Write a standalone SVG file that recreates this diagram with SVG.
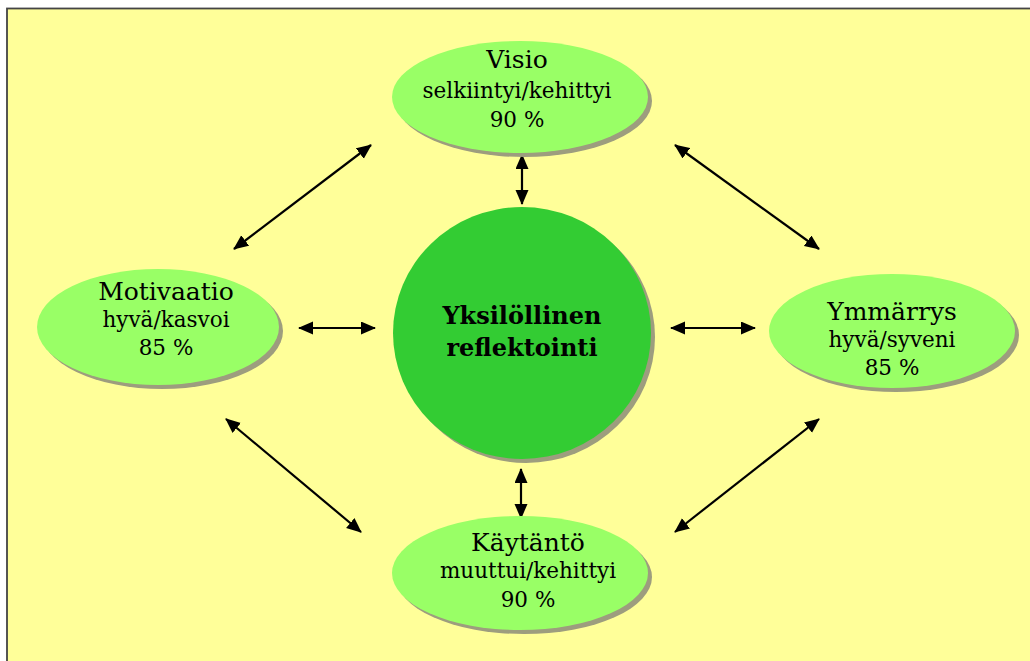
<svg xmlns="http://www.w3.org/2000/svg" width="1030" height="661" viewBox="0 0 1030 661">
<defs>
<marker id="ah" markerUnits="userSpaceOnUse" markerWidth="16" markerHeight="14" refX="14" refY="6.5" orient="auto-start-reverse" viewBox="0 0 16 14">
<path d="M0,0 L15,6.5 L0,13 z" fill="#000"/>
</marker>
<style>
.sh{fill:#9d9d7e}
.node{fill:#99ff66}
.core{fill:#33cc33}
.t{font-family:"DejaVu Serif","Liberation Serif",serif;fill:#000;text-anchor:middle}
.h{font-size:25px}
.s{font-size:21.5px}
.b{font-size:24px;font-weight:bold}
.c line{stroke:#000;stroke-width:2.2;marker-start:url(#ah);marker-end:url(#ah)}
</style>
</defs>
<rect x="0" y="0" width="1030" height="661" fill="#ffffff"/>
<rect x="7" y="8.5" width="1030" height="700" fill="#ffff99" stroke="#444" stroke-width="1.8"/>
<g class="c" id="connectors">
<line x1="522" y1="155" x2="522" y2="204"/>
<line x1="521" y1="469" x2="521" y2="518"/>
<line x1="299" y1="328" x2="375" y2="328"/>
<line x1="671" y1="328" x2="755" y2="328"/>
<line x1="371" y1="145" x2="234" y2="249"/>
<line x1="675" y1="145" x2="819" y2="249"/>
<line x1="226" y1="419" x2="361" y2="532"/>
<line x1="819" y1="419" x2="675" y2="532"/>
</g>
<g id="visio">
<ellipse class="sh" cx="524" cy="101" rx="128" ry="56"/>
<ellipse class="node" cx="520" cy="97" rx="128" ry="56"/>
<text class="t h" x="517" y="68">Visio</text>
<text class="t s" x="517" y="98">selkiintyi/kehittyi</text>
<text class="t s" x="517" y="127">90 %</text>
</g>
<g id="motivaatio">
<ellipse class="sh" cx="162" cy="331" rx="121" ry="58"/>
<ellipse class="node" cx="158" cy="327" rx="121" ry="58"/>
<text class="t h" x="166" y="300">Motivaatio</text>
<text class="t s" x="166" y="327">hyvä/kasvoi</text>
<text class="t s" x="166" y="355">85 %</text>
</g>
<g id="ymmarrys">
<ellipse class="sh" cx="896" cy="335" rx="123" ry="57"/>
<ellipse class="node" cx="892" cy="331" rx="123" ry="57"/>
<text class="t h" x="892" y="320">Ymmärrys</text>
<text class="t s" x="892" y="347">hyvä/syveni</text>
<text class="t s" x="892" y="375">85 %</text>
</g>
<g id="kaytanto">
<ellipse class="sh" cx="524" cy="577" rx="128" ry="57"/>
<ellipse class="node" cx="520" cy="573" rx="128" ry="57"/>
<text class="t h" x="528" y="551">Käytäntö</text>
<text class="t s" x="528" y="578">muuttui/kehittyi</text>
<text class="t s" x="528" y="607">90 %</text>
</g>
<g id="reflektointi">
<ellipse class="sh" cx="526" cy="337" rx="129" ry="126"/>
<ellipse class="core" cx="522" cy="333" rx="129" ry="126"/>
<text class="t b" x="522" y="324">Yksilöllinen</text>
<text class="t b" x="522" y="356">reflektointi</text>
</g>
</svg>
